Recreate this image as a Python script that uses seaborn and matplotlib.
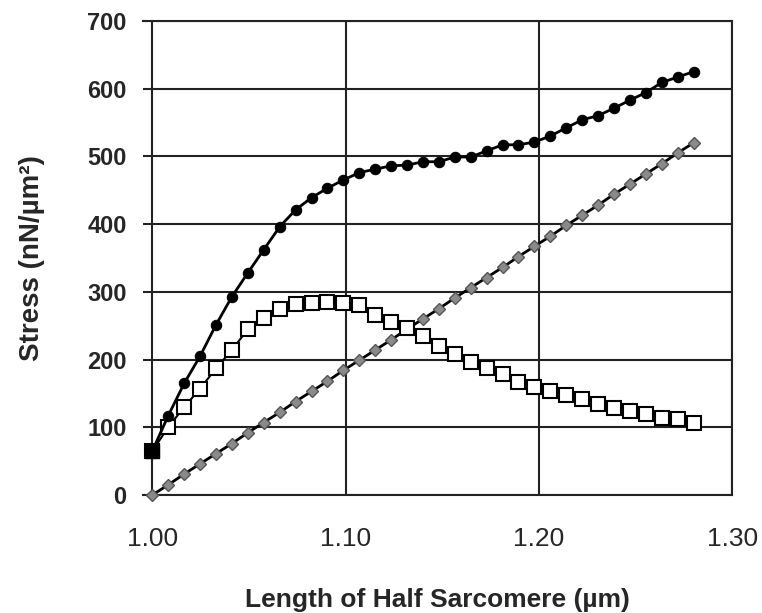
import pandas as pd
import matplotlib
matplotlib.use('Agg')
import matplotlib.pyplot as plt
import seaborn as sns

# half sarcomere length (um)
length = [1.0000, 1.0082, 1.0165, 1.0247, 1.0329, 1.0412, 1.0494, 1.0576,
          1.0659, 1.0741, 1.0824, 1.0906, 1.0988, 1.1071, 1.1153, 1.1235,
          1.1318, 1.1400, 1.1482, 1.1565, 1.1647, 1.1729, 1.1812, 1.1894,
          1.1976, 1.2059, 1.2141, 1.2224, 1.2306, 1.2388, 1.2471, 1.2553,
          1.2635, 1.2718, 1.2800]

# total stress (filled circles)
total = [65, 117, 165, 205, 251, 293, 328, 362, 396, 421, 439, 453, 465, 476,
         481, 486, 487, 492, 492, 499, 499, 508, 517, 517, 521, 530, 542, 554,
         560, 571, 583, 594, 609, 617, 625]

# active stress (open squares)
active = [65, 100, 130, 157, 187, 214, 245, 262, 275, 282, 284, 285, 284, 280,
          266, 255, 246, 234, 220, 208, 196, 188, 178, 167, 160, 153, 148, 141,
          135, 128, 124, 120, 114, 112, 106]

# passive stress (grey diamonds)
passive = [0, 15, 31, 46, 61, 76, 92, 107, 122, 138, 153, 168, 184, 199, 214,
           229, 245, 260, 275, 291, 306, 321, 336, 352, 367, 382, 398, 413,
           428, 444, 459, 474, 489, 505, 520]

df = pd.DataFrame({'Length': length, 'Total': total,
                   'Active': active, 'Passive': passive})

sns.set_style('white')
plt.rcParams['font.family'] = ['Liberation Sans', 'DejaVu Sans']

fig, ax = plt.subplots(figsize=(7.62, 6.13), dpi=100)
fig.subplots_adjust(left=0.188, right=0.961, top=0.966, bottom=0.1925)

sns.lineplot(data=df, x='Length', y='Passive', ax=ax, color='black', lw=2,
             marker='D', markersize=6, markerfacecolor='#8a8a8a',
             markeredgecolor='#555555', markeredgewidth=1, clip_on=False,
             zorder=3)
sns.lineplot(data=df, x='Length', y='Active', ax=ax, color='black', lw=1.5,
             marker='s', markersize=9.5, markerfacecolor='white',
             markeredgecolor='black', markeredgewidth=1.5, clip_on=False,
             zorder=4)
sns.lineplot(data=df, x='Length', y='Total', ax=ax, color='black', lw=2,
             marker='o', markersize=7.5, markerfacecolor='black',
             markeredgecolor='black', clip_on=False, zorder=5)
# first point of the active curve shows as a solid square
ax.plot(length[:1], active[:1], marker='s', markersize=10, color='black',
        clip_on=False, zorder=6)

ax.set(xlim=(0.9953, 1.30), ylim=(0, 700))
ax.set_xticks([1.00, 1.10, 1.20, 1.30])
ax.set_xticklabels(['1.00', '1.10', '1.20', '1.30'])
ax.set_yticks(range(0, 701, 100))

ax.grid(True, color='#222222', lw=1.5)
ax.set_axisbelow(True)
for side in ['top', 'right', 'bottom']:
    ax.spines[side].set_visible(True)
    ax.spines[side].set_color('#222222')
    ax.spines[side].set_linewidth(1.5)
ax.spines['left'].set_visible(False)

ax.tick_params(axis='x', direction='out', length=7, width=1.5, color='#222222',
               pad=16, labelsize=19)
ax.tick_params(axis='y', length=0, pad=12, labelsize=17)
for lab in ax.get_yticklabels():
    lab.set_fontweight('bold')

ax.set_xlabel('Length of Half Sarcomere (µm)', fontsize=19, fontweight='bold',
              labelpad=27)
ax.set_ylabel('Stress (nN/µm²)', fontsize=20, fontweight='bold', labelpad=30)

fig.savefig('out.png', dpi=100)
